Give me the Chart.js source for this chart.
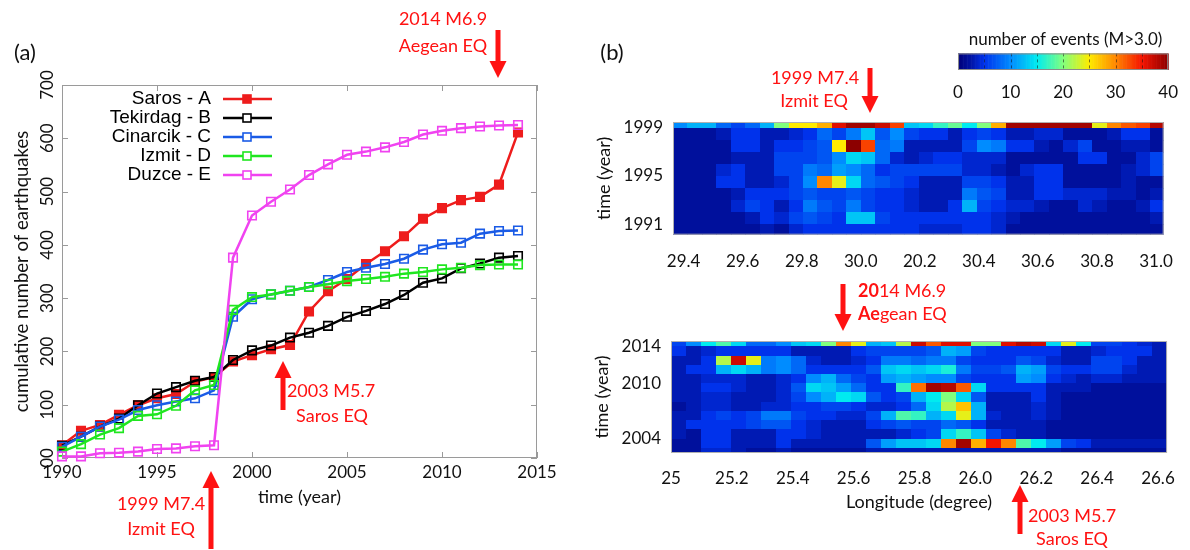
<!DOCTYPE html>
<html>
<head>
<meta charset="utf-8">
<title>Cumulative earthquakes and space-time event density</title>
<script src="https://cdn.jsdelivr.net/npm/chart.js@4.4.1/dist/chart.umd.min.js"></script>
<style>
  body { margin: 0; background: #fff; }
  #page { position: relative; width: 1190px; height: 550px; overflow: hidden; font-family: Lato, sans-serif; }
  #page canvas { position: absolute; left: 0; top: 0; }
  #arrows { position: absolute; left: 0; top: 0; }
  .txt { position: absolute; transform: translate(-50%, -50%); white-space: nowrap; font-size: 18px; line-height: 1; color: #111; }
  .red { color: #ff1212; }
  .lft { transform: translate(0, -50%); }
</style>
</head>
<body>
<div id="page">
  <canvas id="cumChart" width="1190" height="550"></canvas>
  <canvas id="topHeat" width="1190" height="550"></canvas>
  <canvas id="botHeat" width="1190" height="550"></canvas>
  <canvas id="cbar" width="1190" height="550"></canvas>
  <svg id="arrows" width="1190" height="550"></svg>

  <div class="txt" style="left:25px;top:52px;font-size:22px">(a)</div>
  <div class="txt red" style="left:443px;top:18px">2014 M6.9</div>
  <div class="txt red" style="left:443px;top:45px">Aegean EQ</div>
  <div class="txt red" style="left:161px;top:503px">1999 M7.4</div>
  <div class="txt red" style="left:161px;top:528px">Izmit EQ</div>
  <div class="txt red" style="left:331px;top:390px">2003 M5.7</div>
  <div class="txt red" style="left:332px;top:415px">Saros EQ</div>

  <div class="txt" style="left:612px;top:52px;font-size:22px">(b)</div>
  <div class="txt red" style="left:815px;top:77px">1999 M7.4</div>
  <div class="txt red" style="left:814px;top:100px">Izmit EQ</div>
  <div class="txt red lft" style="left:858px;top:290px"><b>20</b>14 M6.9</div>
  <div class="txt red lft" style="left:858px;top:313px"><b>Ae</b>gean EQ</div>
  <div class="txt red" style="left:1072px;top:515px">2003 M5.7</div>
  <div class="txt red" style="left:1072px;top:538px">Saros EQ</div>
</div>
<script>
// ---- panel (a): cumulative number of earthquakes per segment ----
const years = [1990, 1991, 1992, 1993, 1994, 1995, 1996, 1997, 1998, 1999, 2000, 2001, 2002,
               2003, 2004, 2005, 2006, 2007, 2008, 2009, 2010, 2011, 2012, 2013, 2014];
const saros    = [24, 51, 62, 81, 99, 112, 120, 143, 152, 181, 193, 204, 212, 275, 313, 336, 364, 388, 416, 449, 469, 484, 490, 513, 611];
const tekirdag = [23, 40, 59, 74, 99, 121, 133, 145, 152, 184, 202, 211, 226, 235, 248, 265, 276, 289, 306, 329, 337, 356, 365, 376, 379];
const cinarcik = [21, 40, 59, 72, 90, 99, 106, 112, 127, 265, 298, 307, 314, 321, 334, 349, 357, 364, 374, 391, 401, 404, 421, 426, 427];
const izmit    = [12, 26, 44, 56, 79, 82, 98, 127, 137, 278, 302, 307, 314, 321, 326, 332, 336, 340, 346, 349, 354, 357, 362, 363, 363];
const duzce    = [3, 3, 9, 10, 12, 17, 18, 22, 24, 376, 455, 481, 504, 531, 551, 569, 575, 583, 593, 607, 614, 619, 622, 624, 625];
const seriesNames = ['Saros - A', 'Tekirdag - B', 'Cinarcik - C', 'Izmit - D', 'Duzce - E'];
const yearTicksA = [1990, 1995, 2000, 2005, 2010, 2015];

// ---- panel (b) top: 1990-1999, longitude 29.4-31.0 (rows listed top to bottom) ----
const topYears = [1999, 1998, 1997, 1996, 1995, 1994, 1993, 1992, 1991, 1990];
const topLon0 = 29.365, topStep = 0.049;
const topLonTicks = [29.4, 29.6, 29.8, 30.0, 30.2, 30.4, 30.6, 30.8, 31.0];
const topLonLabels = ['29.4', '29.6', '29.8', '30.0', '20.2', '30.4', '30.6', '30.8', '31.0'];
const topYearTicks = [1991, 1995, 1999];
const topGrid = [
  [10, 12, 12, 8, 6, 8, 12, 20, 25, 25, 28, 36, 39, 39, 37, 33, 13, 14, 17, 19, 15, 20, 28, 39, 39, 39, 39, 39, 39, 24, 30, 32, 33, 38],
  [2, 2, 2, 3, 5, 5, 3, 3, 4, 5, 8, 6, 9, 13, 7, 10, 6, 5, 5, 3, 5, 6, 5, 3, 3, 4, 4, 2, 2, 2, 3, 5, 5, 2],
  [2, 2, 2, 2, 5, 5, 3, 5, 5, 6, 7, 25, 40, 33, 8, 9, 3, 3, 3, 3, 6, 10, 9, 5, 5, 3, 2, 4, 6, 2, 2, 3, 3, 2],
  [2, 2, 2, 2, 3, 3, 3, 6, 6, 6, 7, 10, 14, 13, 8, 4, 3, 4, 5, 5, 4, 4, 4, 2, 2, 2, 2, 2, 5, 5, 2, 2, 4, 6],
  [2, 2, 2, 4, 5, 3, 3, 6, 6, 9, 8, 11, 10, 8, 5, 6, 6, 6, 6, 6, 4, 4, 3, 2, 4, 5, 5, 2, 2, 2, 2, 3, 4, 6],
  [2, 2, 2, 5, 5, 3, 3, 4, 6, 10, 30, 24, 14, 8, 7, 6, 5, 3, 3, 3, 6, 6, 5, 3, 3, 5, 5, 2, 2, 2, 2, 3, 2, 2],
  [2, 2, 2, 2, 3, 5, 5, 5, 6, 7, 6, 6, 7, 6, 5, 5, 4, 3, 3, 3, 9, 7, 6, 3, 3, 5, 5, 4, 4, 4, 3, 3, 2, 3],
  [2, 2, 2, 2, 4, 6, 5, 3, 5, 9, 7, 6, 9, 6, 5, 5, 4, 3, 3, 5, 12, 6, 5, 4, 4, 3, 2, 2, 4, 3, 2, 2, 3, 5],
  [2, 2, 2, 2, 2, 3, 5, 4, 6, 7, 6, 5, 13, 13, 6, 5, 5, 5, 5, 5, 5, 5, 4, 3, 2, 2, 2, 2, 2, 2, 2, 2, 2, 3],
  [2, 2, 2, 2, 2, 2, 3, 2, 4, 5, 5, 5, 5, 5, 5, 5, 5, 4, 4, 4, 5, 5, 4, 2, 2, 2, 2, 2, 2, 2, 2, 2, 2, 2]
];

// ---- panel (b) bottom: 2002-2014, longitude 25.0-26.6 ----
const botYears = [2014, 2013, 2012, 2011, 2010, 2009, 2008, 2007, 2006, 2005, 2004, 2003, 2002];
const botLon0 = 25.0, botStep = 0.0494;
const botLonTicks = [25, 25.2, 25.4, 25.6, 25.8, 26.0, 26.2, 26.4, 26.6];
const botLonLabels = ['25', '25.2', '25.4', '25.6', '25.8', '26.0', '26.2', '26.4', '26.6'];
const botYearTicks = [2004, 2010, 2014];
const botGrid = [
  [6, 10, 15, 18, 14, 8, 8, 10, 13, 14, 20, 30, 24, 12, 13, 22, 37, 32, 36, 36, 20, 20, 36, 38, 37, 14, 24, 15, 6, 6, 5, 4, 3],
  [5, 3, 4, 5, 5, 5, 5, 5, 3, 3, 3, 3, 5, 6, 6, 6, 6, 7, 12, 11, 6, 5, 5, 5, 5, 5, 3, 3, 4, 5, 5, 5, 3],
  [3, 3, 5, 22, 37, 24, 9, 10, 8, 4, 3, 3, 4, 5, 9, 9, 8, 9, 9, 6, 5, 5, 5, 7, 6, 4, 3, 3, 6, 6, 5, 3, 3],
  [3, 5, 5, 12, 14, 12, 9, 10, 8, 5, 5, 5, 5, 7, 13, 14, 13, 14, 16, 9, 6, 6, 7, 12, 11, 6, 5, 5, 6, 6, 4, 3, 3],
  [3, 3, 4, 4, 4, 3, 3, 4, 5, 10, 12, 8, 6, 5, 11, 12, 11, 10, 10, 6, 5, 5, 5, 11, 10, 5, 4, 3, 4, 4, 3, 3, 3],
  [3, 3, 5, 5, 4, 3, 3, 4, 7, 14, 13, 11, 8, 5, 5, 17, 31, 39, 38, 32, 14, 5, 5, 5, 5, 3, 3, 3, 2, 2, 2, 2, 2],
  [3, 3, 4, 4, 3, 3, 3, 4, 6, 10, 12, 15, 14, 7, 5, 6, 12, 15, 20, 14, 7, 3, 3, 3, 5, 3, 2, 2, 2, 2, 2, 2, 2],
  [2, 3, 4, 4, 3, 3, 4, 4, 5, 5, 6, 6, 5, 4, 4, 5, 8, 14, 22, 27, 12, 3, 3, 3, 4, 3, 2, 2, 2, 2, 2, 2, 2],
  [3, 3, 5, 6, 5, 6, 9, 9, 6, 5, 5, 4, 4, 6, 12, 18, 17, 12, 14, 24, 12, 4, 3, 3, 4, 3, 2, 2, 2, 2, 2, 2, 2],
  [3, 5, 5, 5, 5, 6, 7, 7, 5, 4, 3, 3, 3, 5, 6, 7, 6, 6, 8, 7, 5, 3, 3, 3, 3, 2, 2, 2, 2, 2, 2, 2, 2],
  [3, 2, 5, 5, 3, 3, 3, 5, 5, 4, 3, 3, 3, 3, 3, 4, 5, 6, 14, 17, 13, 6, 4, 3, 3, 2, 2, 2, 2, 2, 2, 2, 2],
  [2, 2, 5, 5, 3, 3, 3, 5, 3, 3, 3, 3, 3, 7, 11, 13, 13, 14, 30, 39, 28, 35, 30, 18, 15, 11, 6, 5, 3, 3, 3, 3, 3],
  [2, 2, 4, 4, 3, 2, 2, 3, 2, 2, 2, 2, 2, 3, 3, 3, 3, 3, 3, 3, 3, 3, 3, 3, 3, 3, 2, 2, 2, 2, 2, 2, 2]
];

const cbarTicks = [0, 10, 20, 30, 40];

Chart.defaults.font.family = 'Lato';
Chart.defaults.color = '#111';

// jet-like colour map over 0..40 events (stops as they look in the figure)
const jetStops = [
  [0, 0, 0, 120], [2.5, 0, 20, 165], [5, 0, 50, 235], [10, 0, 140, 255], [15, 0, 235, 240],
  [20, 130, 255, 125], [25, 255, 235, 0], [30, 255, 135, 0], [35, 245, 20, 0], [40, 140, 0, 0]
];
function jet(v) {
  v = Math.max(0, Math.min(40, v));
  for (let i = 1; i < jetStops.length; i++) {
    const a = jetStops[i - 1], b = jetStops[i];
    if (v <= b[0]) {
      const f = (v - a[0]) / (b[0] - a[0]);
      const c = k => Math.round(a[k] + f * (b[k] - a[k]));
      return `rgb(${c(1)},${c(2)},${c(3)})`;
    }
  }
  return 'rgb(140,0,0)';
}

// gnuplot style box with inward ticks
const framePlugin = {
  id: 'frame',
  beforeDatasetsDraw(chart) {
    const { ctx, chartArea: a, scales: { x, y } } = chart;
    ctx.save();
    ctx.strokeStyle = '#9a9a9a';
    ctx.lineWidth = 1;
    ctx.strokeRect(a.left + 0.5, a.top + 0.5, a.width - 1, a.height - 1);
    ctx.beginPath();
    x.ticks.forEach(t => {
      const px = Math.round(x.getPixelForValue(t.value)) + 0.5;
      ctx.moveTo(px, a.bottom); ctx.lineTo(px, a.bottom - 6);
      ctx.moveTo(px, a.top); ctx.lineTo(px, a.top + 6);
    });
    y.ticks.forEach(t => {
      const py = Math.round(y.getPixelForValue(t.value)) + 0.5;
      ctx.moveTo(a.left, py); ctx.lineTo(a.left + 6, py);
      ctx.moveTo(a.right, py); ctx.lineTo(a.right - 6, py);
    });
    ctx.stroke();
    ctx.restore();
  }
};

// legend with the label left of the sample line
const sideLegend = {
  id: 'sideLegend',
  afterDatasetsDraw(chart) {
    const { ctx, chartArea: a } = chart;
    ctx.save();
    ctx.font = '19px "Liberation Sans"';
    ctx.textAlign = 'right';
    ctx.textBaseline = 'middle';
    chart.data.datasets.forEach((ds, i) => {
      const y = a.top + 14 + i * 19;
      ctx.fillStyle = '#000';
      ctx.fillText(ds.label, a.left + 149, y);
      ctx.strokeStyle = ds.borderColor;
      ctx.lineWidth = 2.5;
      ctx.beginPath();
      ctx.moveTo(a.left + 161, y); ctx.lineTo(a.left + 210, y);
      ctx.stroke();
      ctx.lineWidth = 1.6;
      ctx.fillStyle = ds.pointBackgroundColor !== 'transparent' ? ds.pointBackgroundColor : '#fff';
      ctx.fillRect(a.left + 181, y - 4, 8, 8);
      ctx.strokeRect(a.left + 181, y - 4, 8, 8);
    });
    ctx.restore();
  }
};

const colors = ['#ee1c1c', '#000000', '#1a5be6', '#1fe61f', '#f043f0'];
const series = [saros, tekirdag, cinarcik, izmit, duzce];

new Chart(document.getElementById('cumChart'), {
  type: 'line',
  data: {
    datasets: series.map((vals, i) => ({
      label: seriesNames[i],
      data: years.map((yr, k) => ({ x: yr, y: vals[k] })),
      borderColor: colors[i],
      borderWidth: 2.5,
      pointStyle: 'rect',
      pointRadius: 6,
      pointBorderWidth: 1.6,
      pointBorderColor: colors[i],
      pointBackgroundColor: i === 0 ? colors[i] : 'transparent',
      tension: 0,
      clip: false,
      order: 5 - i
    }))
  },
  options: {
    responsive: false,
    animation: false,
    devicePixelRatio: 1,
    events: [],
    layout: { padding: { left: 0, top: 85, right: 653, bottom: 42 } },
    plugins: { legend: { display: false }, tooltip: { enabled: false } },
    scales: {
      x: {
        type: 'linear', min: 1990, max: 2015,
        afterBuildTicks: s => { s.ticks = yearTicksA.map(v => ({ value: v })); },
        afterFit: s => { s.height = 50; },
        ticks: { callback: v => String(v), font: { size: 17 }, padding: 4, maxRotation: 0 },
        grid: { display: false, drawTicks: false },
        border: { display: false },
        title: { display: true, text: 'time (year)', font: { size: 18 }, padding: 0 }
      },
      y: {
        min: 0, max: 700,
        afterFit: s => { s.width = 62; },
        ticks: { stepSize: 100, minRotation: 90, maxRotation: 90, crossAlign: 'center', padding: 0,
                 font: { size: 17 }, callback: v => (v === 0 ? '00' : String(v)) },
        grid: { display: false, drawTicks: false },
        border: { display: false },
        title: { display: true, text: 'cumulative number of earthquakes', font: { size: 18.5 }, padding: { top: 11 } }
      }
    }
  },
  plugins: [framePlugin, sideLegend]
});

// heat map cells drawn through the chart scales
const heatPlugin = {
  id: 'heat',
  beforeDatasetsDraw(chart, args, opts) {
    const { ctx, chartArea: a, scales: { x, y } } = chart;
    ctx.save();
    ctx.beginPath();
    ctx.rect(a.left, a.top, a.width, a.height);
    ctx.clip();
    chart.data.datasets[0].data.forEach(p => {
      const x0 = Math.floor(x.getPixelForValue(p.x - opts.dx / 2));
      const x1 = Math.ceil(x.getPixelForValue(p.x + opts.dx / 2));
      const y0 = Math.floor(y.getPixelForValue(p.y + 0.5));
      const y1 = Math.ceil(y.getPixelForValue(p.y - 0.5));
      ctx.fillStyle = jet(p.v);
      ctx.fillRect(x0, y0, x1 - x0, y1 - y0);
    });
    ctx.restore();
    ctx.save();
    ctx.strokeStyle = '#b0b0b0';
    ctx.lineWidth = 1;
    ctx.strokeRect(a.left + 0.5, a.top + 0.5, a.width - 1, a.height - 1);
    ctx.restore();
  }
};

function cells(grid, rowYears, lon0, step) {
  const pts = [];
  grid.forEach((row, r) => row.forEach((v, c) => {
    pts.push({ x: lon0 + step * (c + 0.5), y: rowYears[r] + 0.5, v: v });
  }));
  return pts;
}

function heatChart(id, cfg) {
  return new Chart(document.getElementById(id), {
    type: 'scatter',
    data: { datasets: [{ data: cells(cfg.grid, cfg.rowYears, cfg.lon0, cfg.step), pointRadius: 0 }] },
    options: {
      responsive: false,
      animation: false,
      devicePixelRatio: 1,
      events: [],
      layout: { padding: cfg.padding },
      plugins: { legend: { display: false }, tooltip: { enabled: false }, heat: { dx: cfg.step } },
      scales: {
        x: {
          type: 'linear', min: cfg.xMin, max: cfg.xMax,
          afterBuildTicks: s => { s.ticks = cfg.lonTicks.map(v => ({ value: v })); },
          afterFit: s => { s.height = cfg.xHeight; },
          ticks: { callback: (v, i) => cfg.lonLabels[i], font: { size: 17 }, padding: cfg.xPad, maxRotation: 0, autoSkip: false },
          grid: { display: false, drawTicks: false },
          border: { display: false },
          title: cfg.xTitle ? { display: true, text: cfg.xTitle, font: { size: 18 }, padding: { bottom: 2 } } : { display: false }
        },
        y: {
          type: 'linear', min: cfg.yMin, max: cfg.yMax,
          afterBuildTicks: s => { s.ticks = cfg.yearTicks.map(v => ({ value: v })); },
          afterFit: s => { s.width = 80; },
          ticks: { callback: v => String(v), font: { size: 17 }, padding: 10 },
          grid: { display: false, drawTicks: false },
          border: { display: false },
          title: { display: true, text: 'time (year)', font: { size: 18 }, padding: 0 }
        }
      }
    },
    plugins: [heatPlugin]
  });
}

heatChart('topHeat', {
  grid: topGrid, rowYears: topYears, lon0: topLon0, step: topStep,
  xMin: 29.364, xMax: 31.026, yMin: 1990.11, yMax: 1999.5,
  lonTicks: topLonTicks, lonLabels: topLonLabels, yearTicks: topYearTicks,
  xHeight: 50, xPad: 17,
  padding: { left: 593, top: 122, right: 14, bottom: 265.3 }
});

heatChart('botHeat', {
  grid: botGrid, rowYears: botYears, lon0: botLon0, step: botStep,
  xMin: 25.0, xMax: 26.63, yMin: 2002.48, yMax: 2014.65,
  lonTicks: botLonTicks, lonLabels: botLonLabels, yearTicks: botYearTicks,
  xHeight: 62, xPad: 15, xTitle: 'Longitude (degree)',
  padding: { left: 591, top: 341, right: 14, bottom: 35 }
});

// colour bar
const cbarPlugin = {
  id: 'cbarFill',
  beforeDatasetsDraw(chart) {
    const { ctx, chartArea: a, scales: { x } } = chart;
    ctx.save();
    for (let v = 0; v < 40; v += 0.25) {
      const x0 = x.getPixelForValue(v), x1 = x.getPixelForValue(v + 0.25);
      ctx.fillStyle = jet(v + 0.125);
      ctx.fillRect(x0, a.top, x1 - x0 + 0.6, a.height);
    }
    ctx.strokeStyle = 'rgba(20,20,20,0.55)';
    ctx.lineWidth = 1;
    ctx.setLineDash([3, 3]);
    ctx.beginPath();
    for (let v = 5; v < 40; v += 5) {
      const px = Math.round(x.getPixelForValue(v)) + 0.5;
      ctx.moveTo(px, a.top); ctx.lineTo(px, a.bottom);
    }
    ctx.stroke();
    ctx.setLineDash([]);
    ctx.strokeStyle = '#8a8a8a';
    ctx.strokeRect(a.left + 0.5, a.top + 0.5, a.width - 1, a.height - 1);
    ctx.restore();
  }
};

new Chart(document.getElementById('cbar'), {
  type: 'scatter',
  data: { datasets: [{ data: [], pointRadius: 0 }] },
  options: {
    responsive: false,
    animation: false,
    devicePixelRatio: 1,
    events: [],
    layout: { padding: { left: 958, right: 17, top: 27, bottom: 450 } },
    plugins: {
      legend: { display: false },
      tooltip: { enabled: false },
      title: { display: true, text: 'number of events (M>3.0)', font: { size: 17, weight: 'normal' }, color: '#111', padding: { top: 2, bottom: 4 } }
    },
    scales: {
      x: {
        type: 'linear', min: 0, max: 40,
        afterBuildTicks: s => { s.ticks = cbarTicks.map(v => ({ value: v })); },
        afterFit: s => { s.height = 30; },
        ticks: { callback: v => String(v), font: { size: 17 }, padding: 12, maxRotation: 0 },
        grid: { display: false, drawTicks: false },
        border: { display: false }
      },
      y: { display: false, min: 0, max: 1 }
    }
  },
  plugins: [cbarPlugin]
});

// red arrows pointing at the events
const arrows = [
  { x: 498, from: 30, to: 78 },
  { x: 211, from: 549, to: 471 },
  { x: 283, from: 410, to: 361 },
  { x: 870, from: 68, to: 113 },
  { x: 843, from: 284, to: 331 },
  { x: 1020, from: 534, to: 485 }
];
const svg = document.getElementById('arrows');
arrows.forEach(a => {
  const d = a.to > a.from ? 1 : -1;
  const hb = a.to - d * 17;
  const pts = [[a.x - 2.5, a.from], [a.x + 2.5, a.from], [a.x + 2.5, hb], [a.x + 8.5, hb],
               [a.x, a.to], [a.x - 8.5, hb], [a.x - 2.5, hb]];
  const poly = document.createElementNS('http://www.w3.org/2000/svg', 'polygon');
  poly.setAttribute('points', pts.map(p => p.join(',')).join(' '));
  poly.setAttribute('fill', '#ff1212');
  svg.appendChild(poly);
});
</script>
</body>
</html>
